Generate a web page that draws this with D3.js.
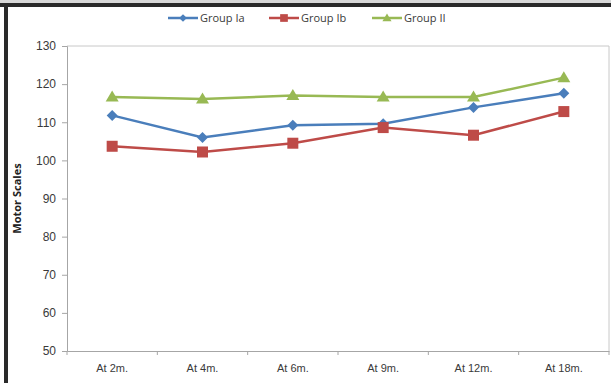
<!DOCTYPE html>
<html>
<head>
<meta charset="utf-8">
<script src="https://cdn.jsdelivr.net/npm/d3@7"></script>
<style>
  html, body { margin: 0; padding: 0; background: #ffffff; }
  svg { display: block; font-family: "Open Sans", "Liberation Sans", sans-serif; }
</style>
</head>
<body>
<svg id="chart" width="611" height="383"></svg>
<script>
// Follow-up points (months of age)
const categories = ["At 2m.", "At 4m.", "At 6m.", "At 9m.", "At 12m.", "At 18m."];

// Mean motor scale score per group
const groupIa = [111.8, 106.0, 109.2, 109.6, 113.9, 117.6];
const groupIb = [103.7, 102.2, 104.5, 108.6, 106.6, 112.8];
const groupII = [116.6, 116.1, 117.0, 116.6, 116.6, 121.7];

const yTicks = [50, 60, 70, 80, 90, 100, 110, 120, 130];
const seriesNames = ["Group Ia", "Group Ib", "Group II"];

const series = [
  { name: seriesNames[0], values: groupIa, color: "#4a7ebb", marker: "diamond" },
  { name: seriesNames[1], values: groupIb, color: "#be4b48", marker: "square" },
  { name: seriesNames[2], values: groupII, color: "#98b954", marker: "triangle" }
];

const svg = d3.select("#chart");
const W = 611, H = 383;

// Outer frame: heavy rule on top and left
svg.append("rect").attr("x", 0).attr("y", 0).attr("width", W).attr("height", 3).attr("fill", "#d8d8d8");
svg.append("rect").attr("x", 0).attr("y", 3).attr("width", W).attr("height", 4).attr("fill", "#2a2a2a");
svg.append("rect").attr("x", 4).attr("y", 3).attr("width", 4).attr("height", H - 3).attr("fill", "#2a2a2a");

const plot = { left: 67, right: 609, top: 46, bottom: 351 };

const x = d3.scaleBand().domain(categories).range([plot.left, plot.right]);
const y = d3.scaleLinear().domain([50, 130]).range([plot.bottom, plot.top]);

// Plot area border (top and right)
svg.append("line").attr("x1", plot.left).attr("x2", plot.right)
  .attr("y1", plot.top).attr("y2", plot.top).attr("stroke", "#c8c8c8");
svg.append("line").attr("x1", plot.right).attr("x2", plot.right)
  .attr("y1", plot.top).attr("y2", plot.bottom).attr("stroke", "#c8c8c8");

// Y axis
const yAxis = svg.append("g")
  .attr("transform", `translate(${plot.left},0)`)
  .call(d3.axisLeft(y).tickValues(yTicks).tickSize(5).tickPadding(6));
yAxis.select(".domain").attr("stroke", "#a6a6a6");
yAxis.selectAll(".tick line").attr("stroke", "#a6a6a6");
yAxis.selectAll(".tick text").attr("fill", "#3a3a3a").style("font-size", "12px");

// X axis
const xAxis = svg.append("g")
  .attr("transform", `translate(0,${plot.bottom})`)
  .call(d3.axisBottom(x).tickSize(0).tickPadding(13));
xAxis.select(".domain").attr("stroke", "#a6a6a6");
xAxis.selectAll(".tick text").attr("fill", "#3a3a3a").style("font-size", "11px");
// category separators
const sep = categories.map((c) => x(c)).concat([plot.right]);
svg.append("g").selectAll("line").data(sep).join("line")
  .attr("x1", d => d).attr("x2", d => d)
  .attr("y1", plot.bottom).attr("y2", plot.bottom + 4)
  .attr("stroke", "#a6a6a6");

// Axis title
svg.append("text")
  .attr("transform", `translate(21,${(plot.top + plot.bottom) / 2}) rotate(-90)`)
  .attr("text-anchor", "middle")
  .attr("fill", "#222")
  .style("font-size", "11px")
  .style("font-weight", "bold")
  .text("Motor Scales");

const cx = c => x(c) + x.bandwidth() / 2;
const line = d3.line().x((d, i) => cx(categories[i])).y(d => y(d));

function drawMarker(g, type, color, px, py) {
  if (type === "diamond") {
    g.append("path").attr("d", `M${px},${py - 5.5}L${px + 5.5},${py}L${px},${py + 5.5}L${px - 5.5},${py}Z`)
      .attr("fill", color);
  } else if (type === "square") {
    g.append("rect").attr("x", px - 5.5).attr("y", py - 5.5).attr("width", 11).attr("height", 11)
      .attr("fill", color);
  } else {
    g.append("path").attr("d", `M${px},${py - 6.5}L${px + 6.5},${py + 4.5}L${px - 6.5},${py + 4.5}Z`)
      .attr("fill", color);
  }
}

// Series lines and markers
series.forEach(s => {
  svg.append("path").datum(s.values)
    .attr("d", line)
    .attr("fill", "none")
    .attr("stroke", s.color)
    .attr("stroke-width", 2.5);
  const g = svg.append("g");
  s.values.forEach((v, i) => drawMarker(g, s.marker, s.color, cx(categories[i]), y(v)));
});

// Legend
const legendX = [168, 269, 372];
series.forEach((s, i) => {
  const g = svg.append("g").attr("transform", `translate(${legendX[i]},18)`);
  g.append("line").attr("x1", 0).attr("x2", 30).attr("y1", 0).attr("y2", 0)
    .attr("stroke", s.color).attr("stroke-width", 2.5);
  const mg = g.append("g").attr("transform", "scale(0.7)");
  drawMarker(mg, s.marker, s.color, 15 / 0.7, 0);
  g.append("text").attr("x", 32).attr("y", 4).attr("fill", "#3a3a3a")
    .style("font-size", "11px").text(s.name);
});
</script>
</body>
</html>
